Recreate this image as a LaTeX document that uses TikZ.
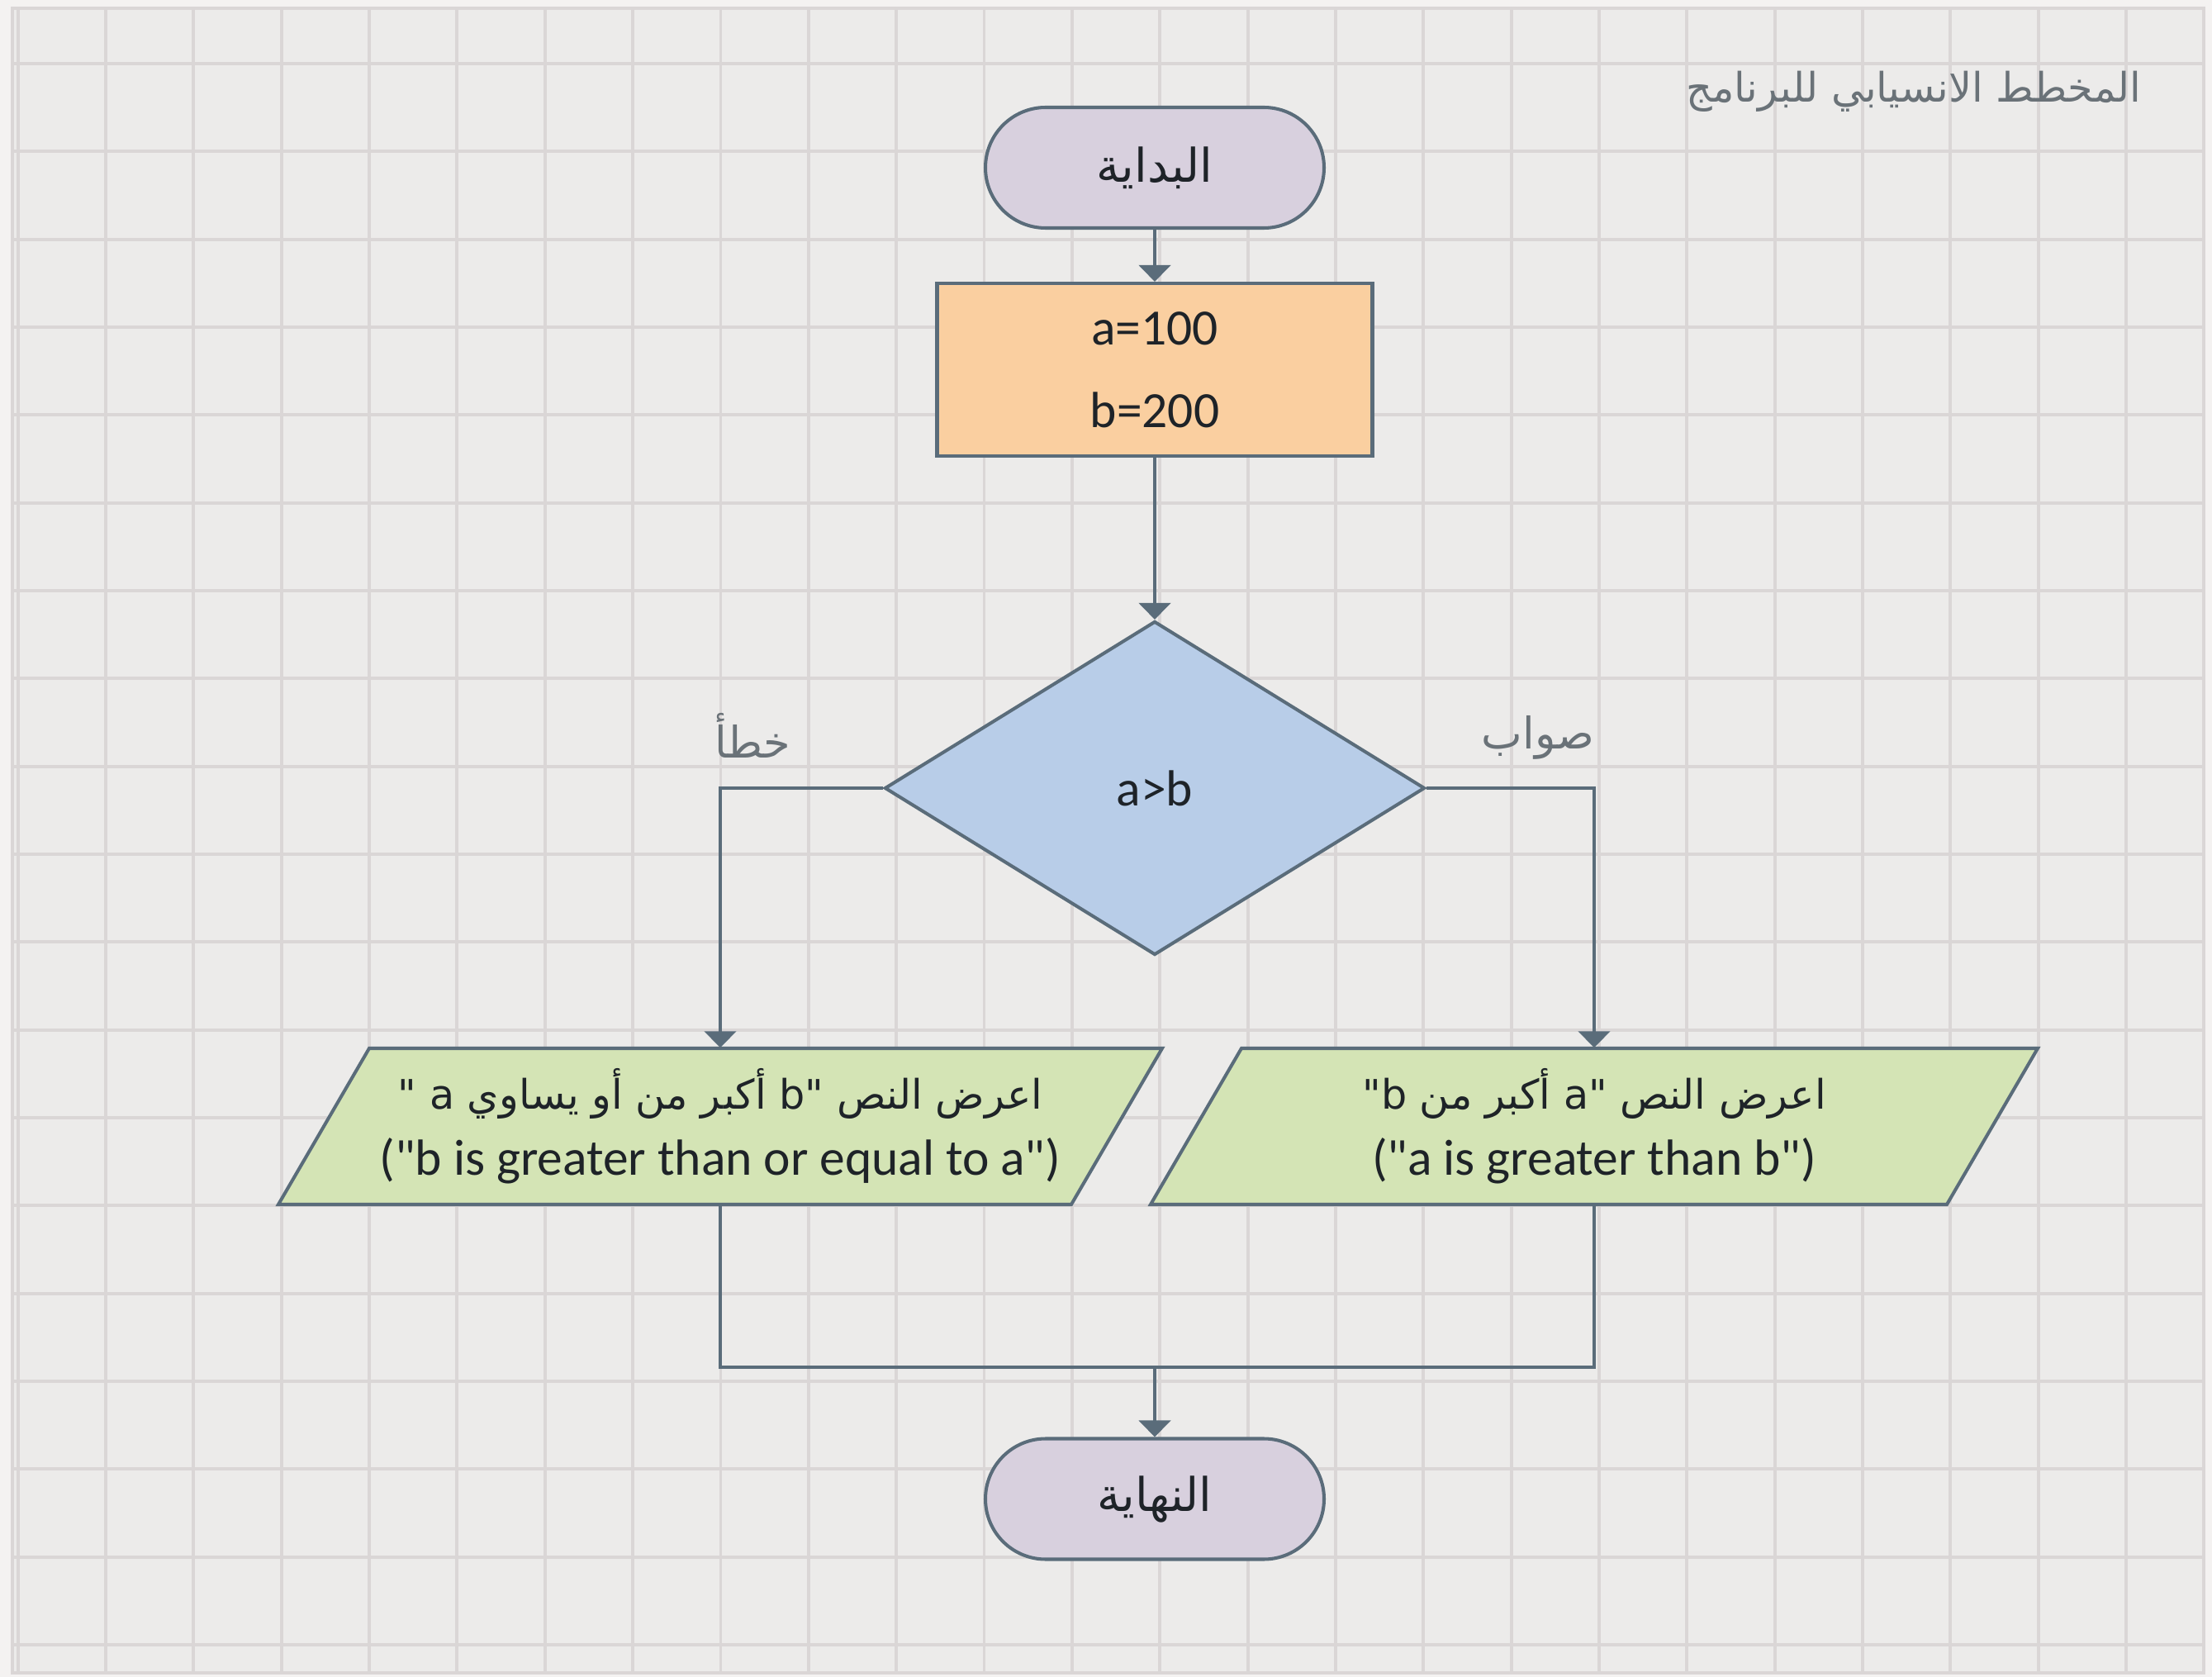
\documentclass[tikz,border=0pt]{standalone}
\usepackage{fontspec}
\setmainfont{Carlito}[Ligatures=TeXOff]
\newfontfamily\arabicfont[Script=Arabic]{DejaVu Sans}
\TeXXeTstate=1
\usetikzlibrary{shapes.geometric,arrows.meta,calc}
\definecolor{outc}{HTML}{F4F2F1}
\definecolor{bgc}{HTML}{ECEBEA}
\definecolor{gridc}{HTML}{DAD6D6}
\definecolor{linec}{HTML}{5A6C7A}
\definecolor{termc}{HTML}{D8D0DE}
\definecolor{procc}{HTML}{FACFA0}
\definecolor{decc}{HTML}{B8CDE8}
\definecolor{parc}{HTML}{D4E4B5}
\definecolor{txtc}{HTML}{1E2328}
\definecolor{lblc}{HTML}{6A7278}
\begin{document}
\begin{tikzpicture}[x=1cm,y=-1cm,
  gridline/.style={draw=gridc, line width=1.1pt},
  conn/.style={draw=linec, line width=1.25pt},
  arr/.style={conn, -{Triangle[length=0.2cm,width=0.38cm]}},
  shapeline/.style={draw=linec, line width=1.15pt},
  term/.style={shapeline, rectangle, rounded corners=0.73cm, minimum width=4.1cm, minimum height=1.46cm, fill=termc, text=txtc, font={\arabicfont\fontsize{16}{19}\selectfont}},
  proc/.style={shapeline, rectangle, minimum width=5.27cm, minimum height=2.09cm, fill=procc, text=txtc, align=center, font={\fontsize{17.5}{28.5}\selectfont}},
  dec/.style={shapeline, diamond, minimum width=6.54cm, minimum height=4.04cm, inner sep=0pt, fill=decc, text=txtc, font={\fontsize{17.5}{21}\selectfont}},
  pgram/.style={shapeline, fill=parc, line join=miter},
  pbox/.style={rectangle, minimum width=10.7cm, minimum height=1.89cm, inner sep=0pt, text=txtc, align=center, font={\fontsize{17.5}{22.8}\selectfont}},
  lbl/.style={text=lblc, font={\arabicfont\fontsize{15}{18}\selectfont}},
  ttl/.style={text=lblc, font={\arabicfont\fontsize{14}{17}\selectfont}}
]
\useasboundingbox (0,0) rectangle (26.78,20.30);
\fill[outc] (0,0) rectangle (26.78,20.30);
\fill[bgc] (0.15,0.10) rectangle (26.68,20.25);
\foreach \i in {0,...,23} \draw[gridline] ({1.28+1.0635*\i},0.10) -- ({1.28+1.0635*\i},20.25);
\foreach \j in {0,...,18} \draw[gridline] (0.15,{0.77+1.0633*\j}) -- (26.68,{0.77+1.0633*\j});
\draw[gridline, line width=1.4pt] (0.15,0.10) rectangle (26.68,20.25);
\draw[gridline] (0.22,0.10) -- (0.22,20.25);

% title
\node[ttl] (title) at (23.17,1.11) {\beginR المخطط الانسيابي للبرنامج\endR};

% nodes
\node[term] (start) at (13.98,2.03) {\beginR البداية\endR};
\node[proc] (init) at (13.98,4.475) {a=100\\b=200};
\node[dec] (cond) at (13.98,9.54) {a>b};

\coordinate (lpc) at (8.72,13.635);
\coordinate (rpc) at (19.30,13.635);
\draw[pgram] ($(lpc)+(-5.35,0.945)$) -- ($(lpc)+(4.25,0.945)$) -- ($(lpc)+(5.35,-0.945)$) -- ($(lpc)+(-4.25,-0.945)$) -- cycle;
\draw[pgram] ($(rpc)+(-5.37,0.945)$) -- ($(rpc)+(4.27,0.945)$) -- ($(rpc)+(5.37,-0.945)$) -- ($(rpc)+(-4.27,-0.945)$) -- cycle;
\node[pbox] (lp) at (lpc) {{\arabicfont\fontsize{14}{17}\selectfont\beginR اعرض النص b" أكبر من أو يساوي a "\endR}\\("b is greater than or equal to a")};
\node[pbox] (rp) at (rpc) {{\arabicfont\fontsize{14}{17}\selectfont\beginR اعرض النص a" أكبر من "b\endR}\\("a is greater than b")};

\node[term] (stop) at (13.98,18.145) {\beginR النهاية\endR};
\coordinate (merge) at (13.98,16.55);

% labels
\node[lbl] (lfalse) at (9.11,8.90) {\beginR خطأ\endR};
\node[lbl] (ltrue) at (18.62,8.93) {\beginR صواب\endR};

% connectors
\draw[arr] (start) -- (init);
\draw[arr] (init) -- (cond);
\draw[arr] (cond.west) -| (lp.north);
\draw[arr] (cond.east) -| (rp.north);
\draw[conn] (lp.south) |- (merge);
\draw[conn] (rp.south) |- (merge);
\draw[arr] (merge) -- (stop);
\end{tikzpicture}
\end{document}
